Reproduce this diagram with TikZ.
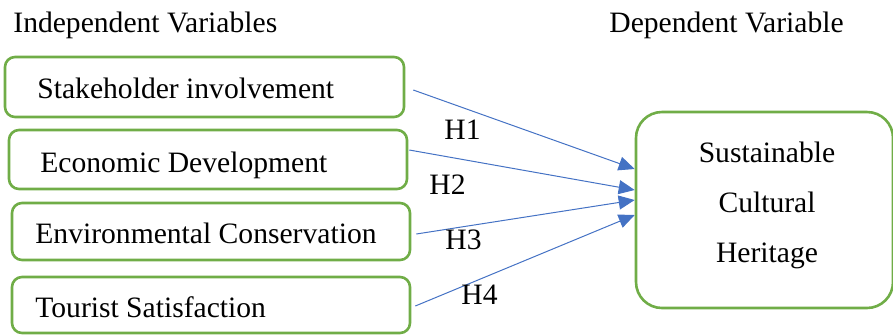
\documentclass[tikz,border=0pt]{standalone}
\usepackage{fontspec}
\setmainfont{Liberation Serif}
\usetikzlibrary{arrows.meta}

\definecolor{boxgreen}{RGB}{112,173,71}
\definecolor{arrowblue}{RGB}{68,114,196}

\tikzset{
    varbox/.style={draw=boxgreen, line width=1.3pt, rounded corners=5pt, inner sep=0pt},
    hyp/.style={draw=arrowblue, line width=0.5pt, -{Triangle[length=8pt,width=7pt]}},
    lbl/.style={anchor=base west, inner sep=0pt}
}

\begin{document}
\begin{tikzpicture}[x=0.5pt, y=-0.5pt, font=\fontsize{14.8}{25}\selectfont]
        \useasboundingbox (0, 0) rectangle (893, 334);
        \node[lbl] (tin) at (13, 32) {Independent Variables};
        \node[lbl] (tdep) at (609, 32) {Dependent Variable};
        \node[varbox, minimum width=199.5pt, minimum height=30pt] (s1) at (204.5, 87) {};
        \node[varbox, minimum width=199pt, minimum height=29.5pt] (s2) at (208, 159.5) {};
        \node[varbox, minimum width=199pt, minimum height=28.5pt] (s3) at (211, 231.5) {};
        \node[varbox, minimum width=199pt, minimum height=28pt] (s4) at (211, 305) {};
        \node[varbox, rounded corners=13pt, minimum width=128.5pt, minimum height=98pt] (dv) at (764.5, 210) {};
        \node[lbl] (t1) at (37, 98) {Stakeholder involvement};
        \node[lbl] (t2) at (40, 172) {Economic Development};
        \node[lbl] (t3) at (35, 243) {Environmental Conservation};
        \node[lbl] (t4) at (35, 317) {Tourist Satisfaction};
        \node[align=center, inner sep=0pt] (tdv) at (767, 205) {Sustainable\\Cultural\\Heritage};
        \draw[hyp] ([shift={(8, 3)}]s1.east) -- ([shift={(0, -41)}]dv.west);
        \draw[hyp] ([shift={(1, -9.5)}]s2.east) -- ([shift={(0, -20)}]dv.west);
        \draw[hyp] ([shift={(5, 2.5)}]s3.east) -- ([shift={(0, -10)}]dv.west);
        \draw[hyp] ([shift={(4, 1)}]s4.east) -- ([shift={(0, 5)}]dv.west);
        \node[lbl] (h1) at (444, 139) {H1};
        \node[lbl] (h2) at (429, 194) {H2};
        \node[lbl] (h3) at (445, 249) {H3};
        \node[lbl] (h4) at (461, 304) {H4};
    \end{tikzpicture}
\end{document}
